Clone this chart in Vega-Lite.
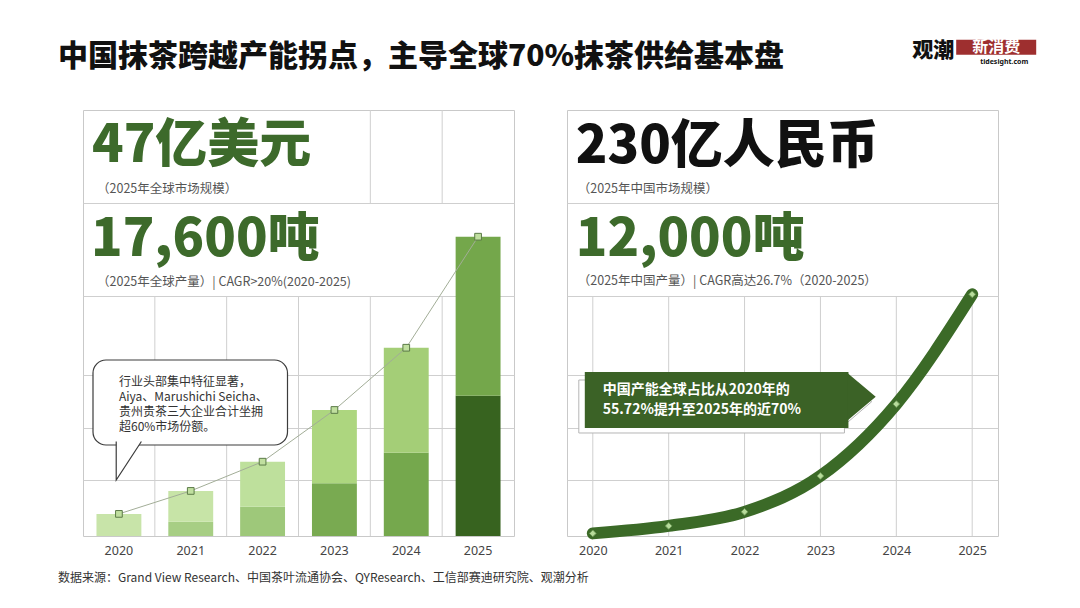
{
  "$schema": "https://vega.github.io/schema/vega-lite/v6.json",
  "background": "white",
  "padding": {"left": 57, "top": 38, "right": 0, "bottom": 0},
  "bounds": "flush",
  "spacing": 53,
  "config": {
    "view": {"stroke": "#c9c9c9", "strokeWidth": 1},
    "font": "Noto Sans CJK SC",
    "axis": {"title": null},
    "text": {"font": "Noto Sans CJK SC"}
  },
  "datasets": {
    "years": [
      {"year": "2020"}, {"year": "2021"}, {"year": "2022"},
      {"year": "2023"}, {"year": "2024"}, {"year": "2025"}
    ],
    "bars": [
      {"year": "2020", "seg": "2020上", "layer": 2, "tons": 1300},
      {"year": "2021", "seg": "2021下", "layer": 1, "tons": 840},
      {"year": "2021", "seg": "2021上", "layer": 2, "tons": 1810},
      {"year": "2022", "seg": "2022下", "layer": 1, "tons": 1720},
      {"year": "2022", "seg": "2022上", "layer": 2, "tons": 2650},
      {"year": "2023", "seg": "2023下", "layer": 1, "tons": 3100},
      {"year": "2023", "seg": "2023上", "layer": 2, "tons": 4310},
      {"year": "2024", "seg": "2024下", "layer": 1, "tons": 4900},
      {"year": "2024", "seg": "2024上", "layer": 2, "tons": 6170},
      {"year": "2025", "seg": "2025下", "layer": 1, "tons": 8250},
      {"year": "2025", "seg": "2025上", "layer": 2, "tons": 9350}
    ],
    "cn": [
      {"year": "2020", "tons": 130},
      {"year": "2021", "tons": 500},
      {"year": "2022", "tons": 1200},
      {"year": "2023", "tons": 2980},
      {"year": "2024", "tons": 6550},
      {"year": "2025", "tons": 12000}
    ]
  },
  "hconcat": [
    {
      "width": 431,
      "height": 426,
      "layer": [
        {
          "data": {"name": "years"},
          "transform": [{"filter": "datum.year != '2020'"}],
          "mark": {"type": "rule", "color": "#cfcfcf", "strokeWidth": 1},
          "encoding": {
            "x": {
              "field": "year", "type": "nominal", "bandPosition": 0,
              "scale": {"domain": ["2020", "2021", "2022", "2023", "2024", "2025"], "paddingInner": 0, "paddingOuter": 0},
              "axis": {"labelAngle": 0, "ticks": false, "tickSize": 0, "domain": false, "grid": false, "labelPadding": 8, "labelFontSize": 12.5, "labelColor": "#444", "labelFont": "Noto Sans"}
            },
            "y": {
              "datum": 0, "type": "quantitative",
              "scale": {"domain": [0, 25050], "nice": false},
              "axis": {"values": [3293, 6350, 9467, 14112, 19580], "grid": true, "gridColor": "#cfcfcf", "labels": false, "ticks": false, "domain": false}
            },
            "y2": {"datum": 14112}
          }
        },
        {
          "data": {"name": "years"},
          "transform": [{"filter": "datum.year == '2024' || datum.year == '2025'"}],
          "mark": {"type": "rule", "color": "#cfcfcf", "strokeWidth": 1},
          "encoding": {
            "x": {"field": "year", "type": "nominal", "bandPosition": 0},
            "y": {"datum": 19580, "type": "quantitative"},
            "y2": {"datum": 25050}
          }
        },
        {
          "data": {"name": "bars"},
          "mark": {"type": "bar", "width": {"band": 0.625}},
          "encoding": {
            "x": {"field": "year", "type": "nominal"},
            "y": {"field": "tons", "type": "quantitative", "stack": "zero"},
            "color": {
              "field": "seg", "type": "nominal", "legend": null,
              "scale": {
                "domain": ["2020上", "2021下", "2021上", "2022下", "2022上", "2023下", "2023上", "2024下", "2024上", "2025下", "2025上"],
                "range": ["#c8e4a9", "#a7ce84", "#c7e4a7", "#9ec87a", "#bee09c", "#79aa51", "#add67f", "#75a84d", "#a4ce77", "#37631f", "#74a74b"]
              }
            },
            "order": {"field": "layer", "type": "quantitative"}
          }
        },
        {
          "data": {"name": "bars"},
          "transform": [{"aggregate": [{"op": "sum", "field": "tons", "as": "total"}], "groupby": ["year"]}],
          "mark": {"type": "line", "color": "#a2ad97", "strokeWidth": 1},
          "encoding": {
            "x": {"field": "year", "type": "nominal"},
            "y": {"field": "total", "type": "quantitative"}
          }
        },
        {
          "data": {"name": "bars"},
          "transform": [{"aggregate": [{"op": "sum", "field": "tons", "as": "total"}], "groupby": ["year"]}],
          "mark": {"type": "point", "shape": "square", "filled": true, "size": 45, "fill": "#c0df9f", "stroke": "#5b7a47", "strokeWidth": 1, "opacity": 1},
          "encoding": {
            "x": {"field": "year", "type": "nominal"},
            "y": {"field": "total", "type": "quantitative"}
          }
        },
        {
          "data": {"values": [{"note": "行业头部集中特征显著，\nAiya、Marushichi Seicha、\n贵州贵茶三大企业合计坐拥\n超60%市场份额。"}]},
          "layer": [
            {
              "mark": {"type": "rect", "fill": "white", "stroke": "#3c3c3c", "strokeWidth": 1.2, "cornerRadius": 13, "xOffset": 10, "x2Offset": -11},
              "encoding": {
                "x": {"datum": "2020", "type": "nominal", "bandPosition": 0},
                "x2": {"datum": "2023", "bandPosition": 0},
                "y": {"datum": 10349, "type": "quantitative"},
                "y2": {"datum": 5351}
              }
            },
            {
              "mark": {"type": "point", "shape": "M -0.68 -1.08 L -0.68 1 L 0.68 -1.08", "filled": true, "size": 1369, "fill": "white", "stroke": "#3c3c3c", "strokeWidth": 1.2, "opacity": 1, "xOffset": 45.8},
              "encoding": {
                "x": {"datum": "2020", "type": "nominal", "bandPosition": 0},
                "y": {"datum": 4381, "type": "quantitative"}
              }
            },
            {
              "mark": {"type": "text", "align": "left", "baseline": "middle", "fontSize": 12, "lineHeight": 15, "lineBreak": "\n", "color": "#333", "dx": 36},
              "encoding": {
                "x": {"datum": "2020", "type": "nominal", "bandPosition": 0},
                "y": {"datum": 9073, "type": "quantitative"},
                "text": {"field": "note"}
              }
            }
          ]
        },
        {
          "data": {"values": [{"t": "47亿美元"}]},
          "mark": {"type": "text", "align": "left", "baseline": "middle", "fontSize": 52, "fontWeight": 900, "color": "#3d6a2b", "dx": 9},
          "encoding": {
            "x": {"datum": "2020", "type": "nominal", "bandPosition": 0},
            "y": {"datum": 22932, "type": "quantitative"},
            "text": {"field": "t"}
          }
        },
        {
          "data": {"values": [{"t": "（2025年全球市场规模）"}]},
          "mark": {"type": "text", "align": "left", "baseline": "middle", "fontSize": 12.5, "color": "#555", "dx": 14},
          "encoding": {
            "x": {"datum": "2020", "type": "nominal", "bandPosition": 0},
            "y": {"datum": 20433, "type": "quantitative"},
            "text": {"field": "t"}
          }
        },
        {
          "data": {"values": [{"t": "17,600吨"}]},
          "mark": {"type": "text", "align": "left", "baseline": "middle", "fontSize": 52, "fontWeight": 900, "color": "#3d6a2b", "dx": 8},
          "encoding": {
            "x": {"datum": "2020", "type": "nominal", "bandPosition": 0},
            "y": {"datum": 17405, "type": "quantitative"},
            "text": {"field": "t"}
          }
        },
        {
          "data": {"values": [{"t": "（2025年全球产量）| CAGR>20%(2020-2025)"}]},
          "mark": {"type": "text", "align": "left", "baseline": "middle", "fontSize": 12.5, "color": "#555", "dx": 14},
          "encoding": {
            "x": {"datum": "2020", "type": "nominal", "bandPosition": 0},
            "y": {"datum": 14965, "type": "quantitative"},
            "text": {"field": "t"}
          }
        },
        {
          "data": {"values": [{"t": "中国抹茶跨越产能拐点，主导全球70%抹茶供给基本盘"}]},
          "mark": {"type": "text", "align": "left", "baseline": "middle", "fontSize": 30, "fontWeight": 900, "color": "#111", "dx": -25},
          "encoding": {
            "x": {"datum": "2020", "type": "nominal", "bandPosition": 0},
            "y": {"datum": 28160, "type": "quantitative"},
            "text": {"field": "t"}
          }
        },
        {
          "data": {"values": [{"t": "数据来源：Grand View Research、中国茶叶流通协会、QYResearch、工信部赛迪研究院、观潮分析"}]},
          "mark": {"type": "text", "align": "left", "baseline": "middle", "fontSize": 12, "color": "#333", "dx": -25},
          "encoding": {
            "x": {"datum": "2020", "type": "nominal", "bandPosition": 0},
            "y": {"datum": -2470, "type": "quantitative"},
            "text": {"field": "t"}
          }
        }
      ]
    },
    {
      "width": 431,
      "height": 426,
      "layer": [
        {
          "data": {"name": "cn"},
          "mark": {"type": "rule", "color": "#cfcfcf", "strokeWidth": 1},
          "encoding": {
            "x": {
              "field": "year", "type": "nominal",
              "scale": {"type": "point", "domain": ["2020", "2021", "2022", "2023", "2024", "2025"], "padding": 0.34},
              "axis": {"labelAngle": 0, "ticks": false, "tickSize": 0, "domain": false, "grid": false, "labelPadding": 8, "labelFontSize": 12.5, "labelColor": "#444", "labelFont": "Noto Sans"}
            },
            "y": {
              "datum": 0, "type": "quantitative",
              "scale": {"domain": [0, 21150], "nice": false},
              "axis": {"values": [2780, 5362, 7994, 11916, 16533], "grid": true, "gridColor": "#cfcfcf", "labels": false, "ticks": false, "domain": false}
            },
            "y2": {"datum": 11916}
          }
        },
        {
          "data": {"name": "cn"},
          "mark": {"type": "line", "interpolate": "monotone", "color": "#3b6a27", "strokeWidth": 12, "strokeCap": "round"},
          "encoding": {
            "x": {"field": "year", "type": "nominal"},
            "y": {"field": "tons", "type": "quantitative"}
          }
        },
        {
          "data": {"name": "cn"},
          "mark": {"type": "point", "shape": "diamond", "filled": true, "size": 45, "fill": "#b7dc9b", "stroke": "#6e9a57", "strokeWidth": 1, "opacity": 1},
          "encoding": {
            "x": {"field": "year", "type": "nominal"},
            "y": {"field": "tons", "type": "quantitative"}
          }
        },
        {
          "data": {"values": [{"l1": "中国产能全球占比从2020年的", "l2": "55.72%提升至2025年的近70%"}]},
          "layer": [
            {
              "mark": {"type": "rect", "fill": "white", "stroke": "#b5b5b5", "strokeWidth": 1, "xOffset": -14, "x2Offset": 24},
              "encoding": {
                "x": {"datum": "2020", "type": "nominal"},
                "x2": {"datum": "2023"},
                "y": {"datum": 7745, "type": "quantitative"},
                "y2": {"datum": 5114}
              }
            },
            {
              "mark": {"type": "point", "shape": "M -0.6 -1 L 0.57 0 L -0.6 1 Z", "filled": true, "size": 2209, "fill": "white", "stroke": "#b5b5b5", "strokeWidth": 1, "opacity": 1, "xOffset": -38, "yOffset": 5},
              "encoding": {
                "x": {"datum": "2024", "type": "nominal"},
                "y": {"datum": 6916, "type": "quantitative"}
              }
            },
            {
              "mark": {"type": "rect", "fill": "#3b6226", "xOffset": -8, "x2Offset": 28},
              "encoding": {
                "x": {"datum": "2020", "type": "nominal"},
                "x2": {"datum": "2023"},
                "y": {"datum": 8143, "type": "quantitative"},
                "y2": {"datum": 5362}
              }
            },
            {
              "mark": {"type": "point", "shape": "M -0.62 -1 L 0.57 0 L -0.62 1 Z", "filled": true, "size": 2209, "fill": "#3b6226", "strokeWidth": 0, "opacity": 1, "xOffset": -34},
              "encoding": {
                "x": {"datum": "2024", "type": "nominal"},
                "y": {"datum": 6916, "type": "quantitative"}
              }
            },
            {
              "mark": {"type": "text", "align": "left", "baseline": "middle", "fontSize": 14, "fontWeight": "bold", "color": "white", "dx": 10},
              "encoding": {
                "x": {"datum": "2020", "type": "nominal"},
                "y": {"datum": 7224, "type": "quantitative"},
                "text": {"field": "l1"}
              }
            },
            {
              "mark": {"type": "text", "align": "left", "baseline": "middle", "fontSize": 14, "fontWeight": "bold", "color": "white", "dx": 10},
              "encoding": {
                "x": {"datum": "2020", "type": "nominal"},
                "y": {"datum": 6231, "type": "quantitative"},
                "text": {"field": "l2"}
              }
            }
          ]
        },
        {
          "data": {"values": [{"t": "230亿人民币"}]},
          "mark": {"type": "text", "align": "left", "baseline": "middle", "fontSize": 52, "fontWeight": 900, "color": "#111", "dx": -17},
          "encoding": {
            "x": {"datum": "2020", "type": "nominal"},
            "y": {"datum": 19314, "type": "quantitative"},
            "text": {"field": "t"}
          }
        },
        {
          "data": {"values": [{"t": "（2025年中国市场规模）"}]},
          "mark": {"type": "text", "align": "left", "baseline": "middle", "fontSize": 12.5, "color": "#555", "dx": -15},
          "encoding": {
            "x": {"datum": "2020", "type": "nominal"},
            "y": {"datum": 17228, "type": "quantitative"},
            "text": {"field": "t"}
          }
        },
        {
          "data": {"values": [{"t": "12,000吨"}]},
          "mark": {"type": "text", "align": "left", "baseline": "middle", "fontSize": 52, "fontWeight": 900, "color": "#3d6a2b", "dx": -17},
          "encoding": {
            "x": {"datum": "2020", "type": "nominal"},
            "y": {"datum": 14696, "type": "quantitative"},
            "text": {"field": "t"}
          }
        },
        {
          "data": {"values": [{"t": "（2025年中国产量）| CAGR高达26.7%（2020-2025）"}]},
          "mark": {"type": "text", "align": "left", "baseline": "middle", "fontSize": 12.5, "color": "#555", "dx": -15},
          "encoding": {
            "x": {"datum": "2020", "type": "nominal"},
            "y": {"datum": 12636, "type": "quantitative"},
            "text": {"field": "t"}
          }
        },
        {
          "data": {"values": [{"brand": "观潮", "tag": "新消费", "site": "tidesight.com"}]},
          "layer": [
            {
              "mark": {"type": "text", "align": "left", "baseline": "middle", "fontSize": 21, "fontWeight": 900, "color": "#111", "dx": -60},
              "encoding": {
                "x": {"datum": "2025", "type": "nominal"},
                "y": {"datum": 24079, "type": "quantitative"},
                "text": {"field": "brand"}
              }
            },
            {
              "mark": {"type": "rect", "fill": "#9e2f2f", "xOffset": -16, "x2Offset": 64},
              "encoding": {
                "x": {"datum": "2025", "type": "nominal"},
                "x2": {"datum": "2025"},
                "y": {"datum": 24640, "type": "quantitative"},
                "y2": {"datum": 23890}
              }
            },
            {
              "mark": {"type": "text", "align": "center", "baseline": "middle", "fontSize": 16, "fontWeight": "bold", "color": "white", "dx": 24},
              "encoding": {
                "x": {"datum": "2025", "type": "nominal"},
                "y": {"datum": 24290, "type": "quantitative"},
                "text": {"field": "tag"}
              }
            },
            {
              "mark": {"type": "text", "align": "center", "baseline": "middle", "fontSize": 7, "fontWeight": "bold", "color": "#111", "font": "Noto Sans", "dx": 32},
              "encoding": {
                "x": {"datum": "2025", "type": "nominal"},
                "y": {"datum": 23533, "type": "quantitative"},
                "text": {"field": "site"}
              }
            }
          ]
        }
      ]
    }
  ]
}
